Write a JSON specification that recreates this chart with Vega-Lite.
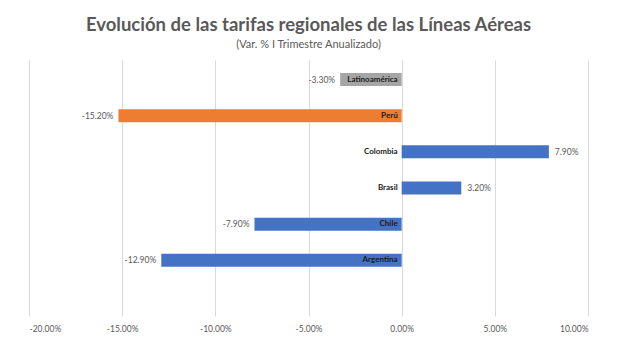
{
  "$schema": "https://vega.github.io/schema/vega-lite/v6.json",
  "width": 559,
  "height": 256,
  "autosize": "none",
  "padding": {"left": 29, "top": 60, "right": 32, "bottom": 30},
  "background": "white",
  "title": {
    "text": "Evolución de las tarifas regionales de las Líneas Aéreas",
    "subtitle": "(Var. % I Trimestre Anualizado)",
    "anchor": "middle",
    "font": "Lato",
    "fontSize": 18.5,
    "fontWeight": "bold",
    "color": "#595959",
    "subtitleFont": "Lato",
    "subtitleFontSize": 11,
    "subtitleColor": "#595959",
    "subtitlePadding": 5,
    "offset": 10
  },
  "data": {
    "values": [
      {"region": "Latinoamérica", "var": -0.033},
      {"region": "Perú", "var": -0.152},
      {"region": "Colombia", "var": 0.079},
      {"region": "Brasil", "var": 0.032},
      {"region": "Chile", "var": -0.079},
      {"region": "Argentina", "var": -0.129}
    ]
  },
  "encoding": {
    "y": {
      "field": "region",
      "type": "nominal",
      "scale": {"domain": ["Latinoamérica", "Perú", "Colombia", "Brasil", "Chile", "Argentina", " "], "paddingInner": 0.64, "paddingOuter": 0.36},
      "axis": null
    }
  },
  "layer": [
    {
      "mark": {"type": "bar", "size": 13},
      "encoding": {
        "x": {
          "field": "var",
          "type": "quantitative",
          "scale": {"domain": [-0.2, 0.1], "nice": false, "zero": false},
          "axis": {
            "format": ".2%",
            "values": [-0.2, -0.15, -0.1, -0.05, 0, 0.05, 0.1],
            "title": null,
            "domain": false,
            "ticks": false,
            "grid": true,
            "gridColor": "#d9d9d9",
            "labelFont": "Lato",
            "labelFontSize": 8.5,
            "labelColor": "#595959",
            "labelPadding": 8
          }
        },
        "color": {
          "field": "region",
          "type": "nominal",
          "scale": {
            "domain": ["Latinoamérica", "Perú", "Colombia", "Brasil", "Chile", "Argentina"],
            "range": ["#a5a5a5", "#ed7d31", "#4472c4", "#4472c4", "#4472c4", "#4472c4"]
          },
          "legend": null
        }
      }
    },
    {
      "mark": {"type": "text", "align": "right", "dx": -4, "font": "Lato", "fontSize": 8, "fontWeight": "bold", "color": "#1a1a1a"},
      "encoding": {
        "x": {"datum": 0, "type": "quantitative"},
        "text": {"field": "region"}
      }
    },
    {
      "transform": [{"filter": "datum.var < 0"}],
      "mark": {"type": "text", "align": "right", "dx": -5, "font": "Lato", "fontSize": 8.5, "color": "#595959"},
      "encoding": {
        "x": {"field": "var", "type": "quantitative"},
        "text": {"field": "var", "format": ".2%"}
      }
    },
    {
      "transform": [{"filter": "datum.var > 0"}],
      "mark": {"type": "text", "align": "left", "dx": 6, "font": "Lato", "fontSize": 8.5, "color": "#595959"},
      "encoding": {
        "x": {"field": "var", "type": "quantitative"},
        "text": {"field": "var", "format": ".2%"}
      }
    }
  ],
  "config": {
    "view": {"stroke": null},
    "locale": {"number": {"decimal": ".", "thousands": ",", "grouping": [3], "currency": ["$", ""], "minus": "-"}}
  }
}
